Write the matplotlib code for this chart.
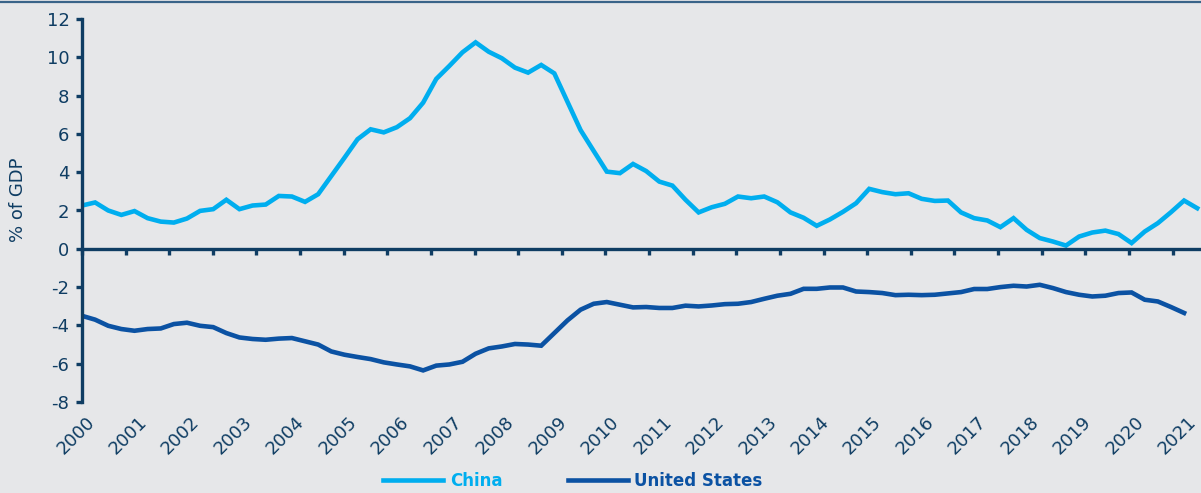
import numpy as np
import matplotlib

matplotlib.use("Agg")
import matplotlib.pyplot as plt
import matplotlib.transforms as mtransforms
from matplotlib.lines import Line2D
from matplotlib.ticker import MultipleLocator

# quarterly current account balance, % of GDP, 2000Q1 onwards
YEARS = list(range(2000, 2022))
CHINA = [2.26, 2.42, 2.00, 1.77, 1.97, 1.60, 1.42, 1.37, 1.58, 1.98,
         2.07, 2.56, 2.07, 2.26, 2.31, 2.76, 2.73, 2.45, 2.85, 3.80,
         4.75, 5.72, 6.24, 6.08, 6.35, 6.82, 7.63, 8.87, 9.55, 10.26,
         10.78, 10.29, 9.95, 9.46, 9.20, 9.60, 9.16, 7.68, 6.20, 5.11,
         4.03, 3.95, 4.43, 4.06, 3.51, 3.30, 2.56, 1.90, 2.17, 2.35,
         2.73, 2.64, 2.73, 2.43, 1.90, 1.62, 1.20, 1.53, 1.93, 2.38,
         3.13, 2.96, 2.85, 2.90, 2.61, 2.50, 2.52, 1.90, 1.60, 1.48,
         1.13, 1.60, 0.99, 0.56, 0.38, 0.17, 0.64, 0.85, 0.95, 0.77,
         0.30, 0.90, 1.34, 1.91, 2.52, 2.12]
US = [-3.50, -3.70, -4.02, -4.19, -4.28, -4.19, -4.16, -3.93, -3.86, -4.02,
      -4.09, -4.40, -4.63, -4.71, -4.75, -4.69, -4.66, -4.83, -5.00, -5.36,
      -5.53, -5.65, -5.76, -5.93, -6.04, -6.14, -6.35, -6.10, -6.04, -5.90,
      -5.48, -5.20, -5.10, -4.97, -5.00, -5.06, -4.40, -3.74, -3.18, -2.87,
      -2.78, -2.92, -3.06, -3.04, -3.09, -3.09, -2.97, -3.01, -2.96, -2.89,
      -2.87, -2.78, -2.61, -2.45, -2.35, -2.09, -2.09, -2.02, -2.02, -2.23,
      -2.26, -2.31, -2.42, -2.40, -2.42, -2.40, -2.33, -2.26, -2.10, -2.10,
      -2.00, -1.93, -1.97, -1.88, -2.05, -2.26, -2.40, -2.49, -2.45, -2.31,
      -2.28, -2.66, -2.75, -3.04, -3.35]

NAVY = "#0f3d63"
BG = "#e6e7e9"
CHINA_COL = "#00aeef"
US_COL = "#0b52a3"

plt.rcParams["axes.unicode_minus"] = False
plt.rcParams["font.family"] = ["DejaVu Sans"]

W, H = 1201, 493
fig = plt.figure(figsize=(W / 100, H / 100), dpi=100, facecolor=BG)
ax = fig.add_axes([82 / W, 91 / H, 1119 / W, 383 / H], facecolor=BG)

l1, = ax.plot(np.arange(len(CHINA)), CHINA, color=CHINA_COL, lw=3.3,
              solid_joinstyle="miter", label="China")
l2, = ax.plot(np.arange(len(US)), US, color=US_COL, lw=3.3,
              solid_joinstyle="miter", label="United States")

ax.set_xlim(0, 85.29)
ax.set_ylim(-8, 12)
ax.set_yticks(range(-8, 13, 2))

for s in ["top", "right"]:
    ax.spines[s].set_visible(False)
ax.spines["bottom"].set_position(("data", 0))
for s in ["bottom", "left"]:
    ax.spines[s].set_color(NAVY)
    ax.spines[s].set_linewidth(2.4)

ax.xaxis.set_major_locator(MultipleLocator(3.325))
ax.tick_params(axis="x", direction="out", length=4, width=2.4, color=NAVY,
               labelbottom=False)
ax.tick_params(axis="y", direction="out", length=4, width=2.4, color=NAVY,
               labelsize=13, labelcolor=NAVY, pad=5)

# year labels sit under the plot, one per four quarters
off = mtransforms.offset_copy(ax.transData, fig=fig, x=16, y=-11, units="dots")
for k, yr in enumerate(YEARS):
    ax.text(4 * k, -8, str(yr), transform=off, rotation=45, ha="right",
            va="top", fontsize=13, color=NAVY, clip_on=False)

fig.text(18 / W, 1 - 200 / H, "% of GDP", rotation=90, ha="center",
         va="center", fontsize=13, color=NAVY)

fig.legend([l1, l2], ["China", "United States"], loc="center",
           bbox_to_anchor=(0.477, 0.025), ncol=2, frameon=False,
           handlelength=3.6, handletextpad=0.4, columnspacing=3.9,
           prop={"size": 12, "weight": "bold"}, labelcolor="linecolor")

fig.add_artist(Line2D([0, 1], [1 - 1.5 / H] * 2, transform=fig.transFigure,
                      color="#3a6489", lw=1.6))

fig.savefig("out.png", dpi=100, facecolor=BG)
